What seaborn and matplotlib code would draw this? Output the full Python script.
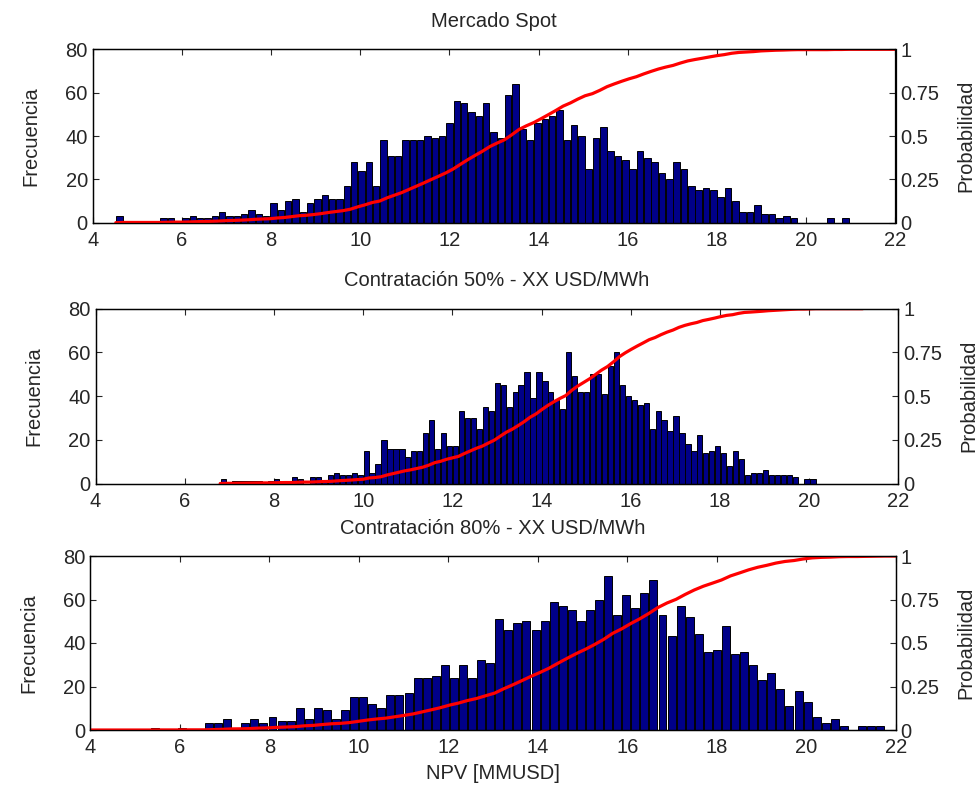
import numpy as np
import pandas as pd
import matplotlib
matplotlib.use("Agg")
import matplotlib.pyplot as plt
import seaborn as sns

# ---------------- data ----------------
titles = ["Mercado Spot",
          "Contratación 50% - XX USD/MWh",
          "Contratación 80% - XX USD/MWh"]

# panel 1: bin centres start / width, counts
p1_start, p1_width = 4.60, 0.1644
p1_counts = [3, 0, 0, 0, 0, 0, 2, 2, 0, 2,
             3, 2, 2, 3, 5, 3, 3, 4, 6, 4,
             3, 9, 6, 10, 11, 5, 9, 11, 13, 11,
             11, 17, 28, 24, 28, 17, 38, 31, 31, 38,
             38, 38, 40, 39, 40, 46, 56, 55, 51, 49,
             55, 42, 39, 59, 64, 43, 38, 46, 48, 49,
             52, 38, 45, 40, 25, 39, 44, 33, 31, 29,
             25, 33, 30, 28, 23, 20, 28, 25, 17, 15,
             16, 15, 12, 16, 10, 5, 5, 8, 4, 4,
             2, 3, 2, 0, 0, 0, 0, 2, 0, 2]

p2_start, p2_width = 6.86, 0.1336
p2_counts = [2, 0, 1, 1, 1, 1, 1, 0, 1, 2,
             1, 0, 3, 2, 0, 3, 3, 1, 4, 5,
             4, 4, 5, 4, 15, 5, 9, 20, 16, 16,
             16, 12, 15, 15, 23, 29, 16, 23, 17, 17,
             33, 30, 30, 25, 35, 33, 46, 45, 35, 42,
             45, 51, 39, 51, 47, 42, 38, 34, 60, 49,
             42, 42, 50, 50, 41, 54, 60, 45, 40, 38,
             36, 37, 25, 33, 29, 24, 31, 23, 18, 15,
             22, 14, 15, 17, 14, 8, 15, 11, 4, 5,
             5, 6, 4, 4, 4, 4, 3, 0, 2, 2]

p3_start, p3_width = 4.018, 0.2027
p3_counts = [0, 0, 0, 0, 0, 0, 0, 1, 0, 0,
             1, 0, 0, 3, 3, 5, 1, 3, 5, 3,
             6, 4, 4, 10, 5, 10, 9, 5, 9, 15,
             15, 12, 10, 16, 16, 17, 24, 24, 25, 30,
             24, 30, 24, 32, 31, 51, 46, 49, 50, 46,
             50, 59, 57, 55, 50, 55, 60, 71, 53, 62,
             56, 63, 69, 53, 43, 57, 52, 44, 36, 37,
             48, 35, 36, 30, 23, 26, 19, 11, 18, 13,
             6, 3, 5, 2, 0, 2, 2, 2]

starts = [p1_start, p2_start, p3_start]
widths = [p1_width, p2_width, p3_width]
counts = [p1_counts, p2_counts, p3_counts]
cdf_end = [22.0, 21.2, 22.0]          # where the red probability line stops

x_ticks = [4, 6, 8, 10, 12, 14, 16, 18, 20, 22]
freq_ticks = [0, 20, 40, 60, 80]
prob_ticks = [0, 0.25, 0.5, 0.75, 1]
prob_labels = ["0", "0.25", "0.5", "0.75", "1"]

# ---------------- style ----------------
sns.set_style("white")
plt.rcParams['font.family'] = ['Liberation Sans', 'DejaVu Sans']
FS = 14.5

W, H = 980, 791
fig = plt.figure(figsize=(W / 100, H / 100), dpi=100)

# axes boxes in pixels: (left, right, top, bottom)
boxes = [(92.7, 895.5, 49.3, 222.7),
         (95.6, 898.4, 308.7, 483.5),
         (90.3, 895.7, 556.0, 730.0)]

bar_color = "#000088"

for k in range(3):
    l, r, t, b = boxes[k]
    ax = fig.add_axes([l / W, 1 - b / H, (r - l) / W, (b - t) / H])
    n = len(counts[k])
    centers = starts[k] + widths[k] * np.arange(n)
    lo = centers[0] - widths[k] / 2
    hi = centers[-1] + widths[k] / 2
    df = pd.DataFrame({"npv": centers, "freq": np.asarray(counts[k], float)})
    sns.histplot(data=df, x="npv", weights="freq", bins=n, binrange=(lo, hi),
                 ax=ax, color=bar_color, edgecolor="black", linewidth=0.7,
                 alpha=1.0, shrink=0.88)
    ax.set_xlim(4, 22)
    ax.set_ylim(0, 80)
    ax.set_xticks(x_ticks)
    ax.set_yticks(freq_ticks)
    ax.tick_params(axis="both", direction="in", length=4, labelsize=FS,
                   top=True, bottom=True, left=True, right=False, width=0.8)
    ax.tick_params(axis="x", pad=6)
    ax.set_ylabel("Frecuencia", fontsize=FS, labelpad=18)
    ax.set_xlabel("NPV [MMUSD]" if k == 2 else "", fontsize=FS, labelpad=5)
    ax.set_title(titles[k], fontsize=FS, pad=16)
    for s in ax.spines.values():
        s.set_color("black")
        s.set_linewidth(0.9)

    # cumulative probability from the same counts
    right_edges = centers + widths[k] / 2
    cum = np.cumsum(counts[k]) / np.sum(counts[k])
    cdf = pd.DataFrame({
        "x": np.concatenate([[lo], right_edges, [cdf_end[k]]]),
        "p": np.concatenate([[0.0], cum, [1.0]]),
    })
    ax2 = ax.twinx()
    sns.lineplot(data=cdf, x="x", y="p", ax=ax2, color="red", linewidth=2.3,
                 estimator=None, sort=False)
    ax2.set_xlim(4, 22)
    ax2.set_ylim(0, 1)
    ax2.set_yticks(prob_ticks)
    ax2.set_yticklabels(prob_labels)
    ax2.tick_params(axis="y", direction="in", length=4, labelsize=FS, width=0.8)
    ax2.set_ylabel("Probabilidad", fontsize=FS, labelpad=12)
    ax2.set_xlabel("")
    for s in ax2.spines.values():
        s.set_color("black")
        s.set_linewidth(0.9)

fig.savefig("out.png", dpi=100)
